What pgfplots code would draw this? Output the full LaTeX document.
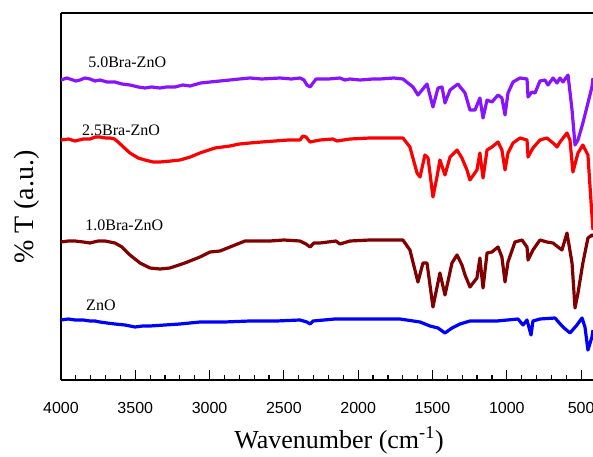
\documentclass[border=0pt]{standalone}
\usepackage{fontspec}
\setmainfont{Liberation Serif}
\newfontfamily\tickfont{Liberation Sans}
\usepackage{pgfplots}
\pgfplotsset{compat=1.18}
\definecolor{cviolet}{RGB}{136,20,255}
\definecolor{cred}{RGB}{250,0,0}
\definecolor{cmaroon}{RGB}{128,0,0}
\definecolor{cblue}{RGB}{0,0,250}
\begin{document}
\begin{tikzpicture}
\begin{axis}[
  scale only axis,
  width=399pt, height=275.25pt,
  x dir=reverse,
  xmin=420, xmax=4000, ymin=0, ymax=367,
  axis x line*=box, axis y line*=left,
  axis line style={line width=1pt},
  xtick={4000,3500,3000,2500,2000,1500,1000,500},
  minor xtick={4000,3900,...,500},
  xtick pos=bottom,
  tick align=inside,
  major tick length=7.5pt, minor tick length=4pt,
  every tick/.style={black, line width=0.9pt},
  ytick=\empty,
  /pgf/number format/assume math mode=true,
  /pgf/number format/set thousands separator={},
  xticklabel style={font=\tickfont\fontsize{12}{14}\selectfont, yshift=-13pt},
  xlabel={Wavenumber (cm\textsuperscript{-1})},
  ylabel={\% T (a.u.)},
  every axis x label/.style={at={(axis description cs:0.5226,0)}, anchor=south, inner sep=0pt, yshift=-56pt, font=\fontsize{19.5}{22}\selectfont},
  every axis y label/.style={at={(axis description cs:-0.0639,0.471)}, anchor=center, rotate=90, font=\fontsize{21}{24}\selectfont},
  every axis plot/.append style={line width=2.4pt, line join=round, no markers},
]
\coordinate (sw) at (rel axis cs:0,0);
\coordinate (ne) at (rel axis cs:1,1);
% 5.0Bra-ZnO
\addplot[cviolet] coordinates {
(4000,300)(3960,302)(3940,301)(3900,299)(3872,300)(3840,302)(3805,301)(3770,299)(3738,300)(3690,298)(3637,298)(3590,296)(3536,295)(3480,293)(3435,292)(3390,293)(3334,292)(3290,293)(3233,293)(3180,295)(3132,294)(3060,297)(2997,298)(2930,299)(2863,300)(2800,301)(2728,302)(2650,301)(2526,302)(2450,301)(2392,302)(2365,300)(2345,295)(2324,293)(2304,297)(2284,301)(2200,301)(2123,302)(2090,300)(2055,301)(1988,300)(1900,301)(1853,301)(1760,302)(1699,301)
(1631,293)(1598,285)(1537,296)(1497,273)(1463,292)(1436,293)(1416,277)(1382,290)(1329,296)(1281,287)(1248,270)(1214,270)(1181,282)(1160,262)(1133,280)(1100,278)(1059,285)(1033,282)(1012,265)(992,287)(958,298)(911,302)(864,301)(857,283)(831,288)(810,287)(777,299)(743,300)(723,295)(689,302)(662,297)(642,302)(622,298)(588,305)(561,270)(541,235)(521,240)(488,257)(454,277)(427,293)(420,302)
};
% 2.5Bra-ZnO
\addplot[cred] coordinates {
(4000,240)(3950,241)(3906,239)(3850,241)(3805,241)(3770,243)(3738,243)(3700,242)(3670,242)(3640,241)(3616,238)(3580,233)(3536,227)(3480,222)(3435,220)(3380,218)(3334,218)(3260,219)(3199,220)(3130,223)(3065,227)(2964,232)(2863,234)(2800,236)(2728,237)(2650,238)(2560,239)(2470,240)(2392,240)(2372,244)(2351,243)(2324,238)(2257,240)(2170,241)(2143,239)(2055,241)(1921,242)(1800,242)(1699,242)
(1652,233)(1604,207)(1584,203)(1551,225)(1530,222)(1497,183)(1470,203)(1450,220)(1416,205)(1382,223)(1335,230)(1302,222)(1268,210)(1248,200)(1201,210)(1181,227)(1160,202)(1133,230)(1100,233)(1059,238)(1033,230)(1012,210)(992,227)(958,237)(911,242)(864,240)(857,223)(824,232)(777,240)(730,242)(689,237)(662,233)(642,238)(595,247)(575,240)(555,208)(521,227)(488,235)(454,225)(434,180)(420,150)
};
% 1.0Bra-ZnO
\addplot[cmaroon] coordinates {
(4000,138)(3950,139)(3906,139)(3850,138)(3805,137)(3750,139)(3704,139)(3670,138)(3637,137)(3590,133)(3536,125)(3468,117)(3401,112)(3334,111)(3267,112)(3166,117)(3065,123)(2997,128)(2930,129)(2863,133)(2762,139)(2680,139)(2594,139)(2500,140)(2392,139)(2351,136)(2324,133)(2298,137)(2257,137)(2150,139)(2123,136)(2055,139)(1921,140)(1800,140)(1699,140)
(1652,130)(1618,110)(1598,98)(1564,117)(1537,117)(1497,73)(1450,107)(1416,85)(1369,117)(1335,125)(1302,115)(1281,105)(1248,93)(1201,102)(1181,122)(1160,92)(1133,127)(1100,128)(1059,133)(1033,123)(1012,98)(992,118)(945,138)(898,140)(864,133)(857,120)(824,130)(777,140)(730,138)(689,137)(656,133)(629,130)(595,147)(561,117)(541,72)(521,87)(488,117)(454,142)(427,145)(420,143)
};
% ZnO
\addplot[cblue] coordinates {
(4000,60)(3950,61)(3906,60)(3850,60)(3805,59)(3770,59)(3738,58)(3690,57)(3637,56)(3569,55)(3502,53)(3450,54)(3401,54)(3300,55)(3199,56)(3065,58)(2900,58)(2728,59)(2550,59)(2392,60)(2345,58)(2324,56)(2304,59)(2156,61)(1950,61)(1719,61)(1584,58)(1517,54)(1463,52)(1416,47)(1369,52)(1315,56)(1248,59)(1066,59)(925,61)(891,55)(864,60)(837,45)(824,59)(777,61)(676,62)(622,53)(575,47)(528,55)(494,62)(474,53)(454,30)(427,43)(420,50)
};
\node[anchor=west, inner sep=0pt, font=\fontsize{12}{14}\selectfont] at (axis cs:3818,318) {5.0Bra-ZnO};
\node[anchor=west, inner sep=0pt, font=\fontsize{12}{14}\selectfont] at (axis cs:3859,250) {2.5Bra-ZnO};
\node[anchor=west, inner sep=0pt, font=\fontsize{12}{14}\selectfont] at (axis cs:3838,155) {1.0Bra-ZnO};
\node[anchor=west, inner sep=0pt, font=\fontsize{12}{14}\selectfont] at (axis cs:3832,75) {ZnO};
\end{axis}
\pgfresetboundingbox
\path ([shift={(-45.75pt,-57.75pt)}]sw) rectangle ([shift={(0pt,9.75pt)}]ne);
\end{tikzpicture}
\end{document}
